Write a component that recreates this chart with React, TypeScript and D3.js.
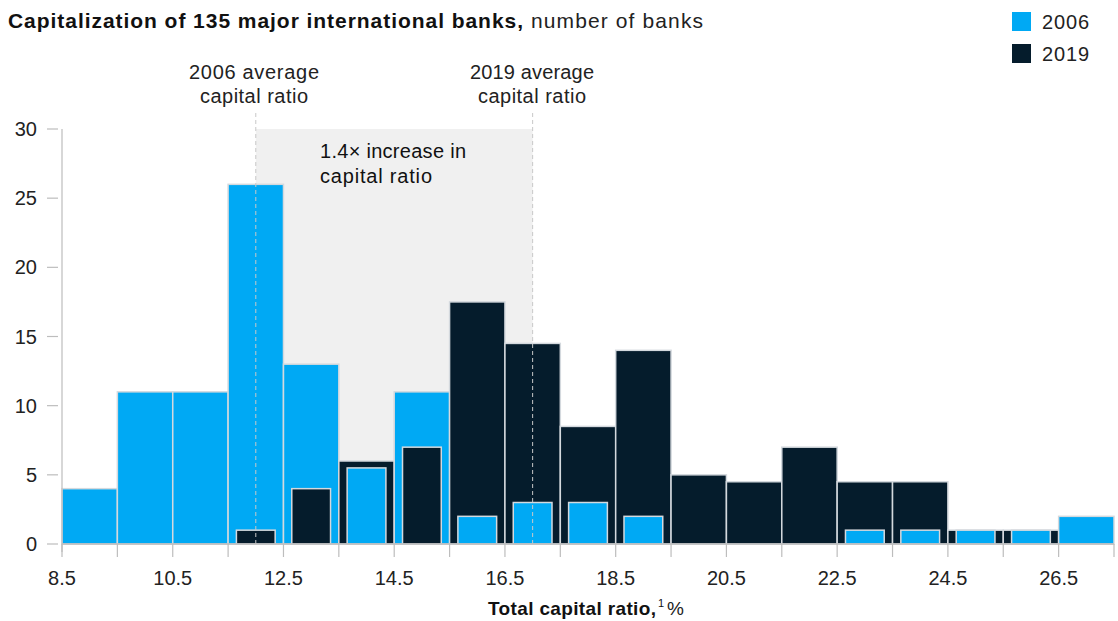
import React from "react";
import * as d3 from "d3";

const binStarts = [8.5, 9.5, 10.5, 11.5, 12.5, 13.5, 14.5, 15.5, 16.5, 17.5, 18.5, 19.5, 20.5, 21.5, 22.5, 23.5, 24.5, 25.5, 26.5];
const values2006 = [4, 11, 11, 26, 13, 5.5, 11, 2, 3, 3, 2, 0, 0, 0, 1, 1, 1, 1, 2];
const values2019 = [0, 0, 0, 1, 4, 6, 7, 17.5, 14.5, 8.5, 14, 5, 4.5, 7, 4.5, 4.5, 1, 1, 0];
const xTickLabels = [8.5, 10.5, 12.5, 14.5, 16.5, 18.5, 20.5, 22.5, 24.5, 26.5];
const yTicks = [0, 5, 10, 15, 20, 25, 30];
const avg2006 = 12.0;
const avg2019 = 17.0;

const C2006 = "#00a9f4";
const C2019 = "#051c2c";
const FONT = "'Liberation Sans', Arial, Helvetica, sans-serif";

export default function App() {
  const W = 1118, H = 621;
  const x = d3.scaleLinear().domain([8.5, 27.5]).range([62, 1114]);
  const y = d3.scaleLinear().domain([0, 30]).range([544, 129]);
  const binW = 1;
  const inset = 0.15;

  const fulls: any[] = [];
  const insets: any[] = [];
  binStarts.forEach((s, i) => {
    const a = values2006[i], b = values2019[i];
    const bigIs2006 = a > b;
    const big = bigIs2006 ? a : b;
    const small = bigIs2006 ? b : a;
    if (big > 0) fulls.push({ s, v: big, c: bigIs2006 ? C2006 : C2019, k: i });
    if (small > 0) insets.push({ s, v: small, c: bigIs2006 ? C2019 : C2006, k: i });
  });

  const edges = binStarts.concat([27.5]);
  const ls = "spacing";

  return (
    <svg width={W} height={H} style={{ position: "absolute", left: 0, top: 0, fontFamily: FONT }}>
      <rect x={0} y={0} width={W} height={H} fill="#fff" />
      <text x={8} y={28} fontSize={21} fill="#111" fontWeight="bold" textLength={515} lengthAdjust={ls}>Capitalization of 135 major international banks,</text>
      <text x={531} y={28} fontSize={21} fill="#222" textLength={172} lengthAdjust={ls}>number of banks</text>
      {/* legend */}
      <rect x={1012} y={12} width={19} height={19} fill={C2006} />
      <text x={1042} y={29} fontSize={20} fill="#222" textLength={47} lengthAdjust={ls}>2006</text>
      <rect x={1012} y={44} width={19} height={19} fill={C2019} />
      <text x={1042} y={61} fontSize={20} fill="#222" textLength={47} lengthAdjust={ls}>2019</text>

      {/* shaded region */}
      <rect x={x(avg2006)} y={y(30)} width={x(avg2019) - x(avg2006)} height={y(0) - y(30)} fill="#f0f0f0" />

      {/* annotation labels */}
      <text x={189} y={79} fontSize={20} fill="#222" textLength={130} lengthAdjust={ls}>2006 average</text>
      <text x={200} y={103} fontSize={20} fill="#222" textLength={108} lengthAdjust={ls}>capital ratio</text>
      <text x={470} y={79} fontSize={20} fill="#222" textLength={124} lengthAdjust={ls}>2019 average</text>
      <text x={478} y={103} fontSize={20} fill="#222" textLength={108} lengthAdjust={ls}>capital ratio</text>
      <text x={320} y={158} fontSize={20} fill="#111" textLength={146} lengthAdjust={ls}>1.4× increase in</text>
      <text x={320} y={183} fontSize={20} fill="#111" textLength={112} lengthAdjust={ls}>capital ratio</text>

      {/* bars */}
      {fulls.map((d) => (
        <rect key={"f" + d.k} x={x(d.s)} y={y(d.v)} width={x(d.s + binW) - x(d.s)} height={y(0) - y(d.v)}
          fill={d.c} stroke="#d4d9de" strokeWidth={1.5} />
      ))}
      {insets.map((d) => (
        <rect key={"i" + d.k} x={x(d.s + inset)} y={y(d.v)} width={x(d.s + binW - inset) - x(d.s + inset)} height={y(0) - y(d.v)}
          fill={d.c} stroke="#d4d9de" strokeWidth={1.5} />
      ))}

      {/* dashed average lines */}
      {[avg2006, avg2019].map((a) => (
        <line key={a} x1={x(a)} x2={x(a)} y1={113} y2={y(0)} stroke="#c8c8c8" strokeWidth={1} strokeDasharray="4,3" />
      ))}

      {/* y axis */}
      <line x1={62} x2={62} y1={y(30)} y2={552} stroke="#bdbdbd" strokeWidth={1.2} />
      {yTicks.map((t) => (
        <g key={t}>
          <line x1={47} x2={58} y1={y(t)} y2={y(t)} stroke="#bdbdbd" strokeWidth={1.2} />
          <text x={37} y={y(t) + 7} fontSize={20} fill="#222" textAnchor="end">{t}</text>
        </g>
      ))}

      {/* x axis */}
      <line x1={62} x2={1114} y1={y(0)} y2={y(0)} stroke="#bdbdbd" strokeWidth={1.5} />
      {edges.map((e) => (
        <line key={e} x1={x(e)} x2={x(e)} y1={y(0)} y2={557} stroke="#bdbdbd" strokeWidth={1.2} />
      ))}
      {xTickLabels.map((t) => (
        <text key={t} x={x(t)} y={585} fontSize={20} fill="#222" textAnchor="middle">{t.toFixed(1)}</text>
      ))}
      <text x={488} y={615} fontSize={19} fill="#111" fontWeight="bold" textLength={168} lengthAdjust={ls}>Total capital ratio,</text>
      <text x={658} y={607} fontSize={11} fill="#111">1</text>
      <text x={667} y={615} fontSize={19} fill="#222">%</text>
    </svg>
  );
}
